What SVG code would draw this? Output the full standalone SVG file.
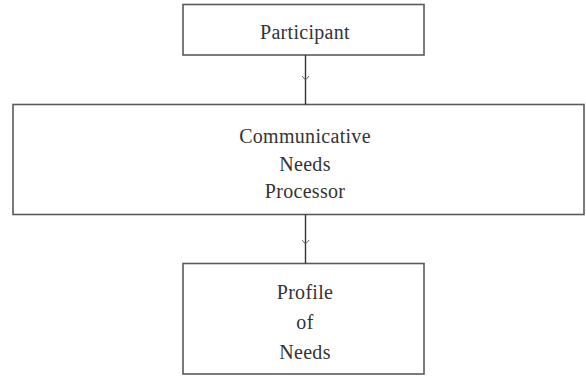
<svg xmlns="http://www.w3.org/2000/svg" width="586" height="376" viewBox="0 0 586 376">
<style>
.box{fill:#fff;stroke:#5a5a5a;stroke-width:1.6}
.lbl{font-family:"Liberation Serif","Times New Roman",serif;font-size:20px;fill:#333;text-anchor:middle;letter-spacing:0.3px}
.con{stroke:#333;stroke-width:1.4;fill:none}
.head{stroke:#666;stroke-width:1;fill:none}
</style>
<rect width="586" height="376" fill="#fff"/>
<g id="participant">
<rect class="box" x="183" y="4.5" width="241" height="50.5"/>
<text class="lbl" x="305" y="39">Participant</text>
</g>
<g id="processor">
<rect class="box" x="13" y="104.5" width="571" height="110"/>
<text class="lbl" x="305" y="143">Communicative</text>
<text class="lbl" x="305" y="171">Needs</text>
<text class="lbl" x="305" y="198">Processor</text>
</g>
<g id="profile">
<rect class="box" x="183" y="263.5" width="241" height="110.5"/>
<text class="lbl" x="305" y="299">Profile</text>
<text class="lbl" x="305" y="329">of</text>
<text class="lbl" x="305" y="359">Needs</text>
</g>
<g id="connectors">
<line class="con" x1="305.5" y1="55" x2="305.5" y2="104.5"/>
<path class="head" d="M302,76 L305.5,80 L309,76"/>
<line class="con" x1="305.5" y1="214.5" x2="305.5" y2="263.5"/>
<path class="head" d="M302,240 L305.5,244 L309,240"/>
</g>
</svg>
